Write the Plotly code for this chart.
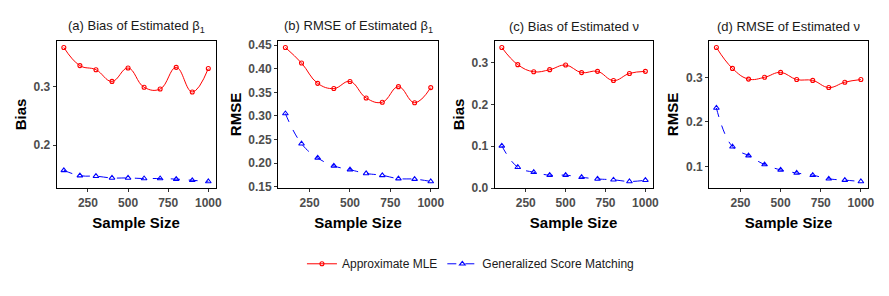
import plotly.graph_objects as go

sample_size = [100, 200, 300, 400, 500, 600, 700, 800, 900, 1000]

# (a) Bias of beta1
bias_beta_mle = [0.367, 0.336, 0.329, 0.309, 0.332, 0.299, 0.296, 0.333, 0.291, 0.331]
bias_beta_gsm = [0.157, 0.148, 0.147, 0.144, 0.144, 0.143, 0.143, 0.142, 0.140, 0.138]
# (b) RMSE of beta1
rmse_beta_mle = [0.445, 0.412, 0.369, 0.358, 0.373, 0.338, 0.329, 0.362, 0.328, 0.360]
rmse_beta_gsm = [0.305, 0.241, 0.211, 0.194, 0.186, 0.178, 0.174, 0.167, 0.166, 0.161]
# (c) Bias of nu
bias_nu_mle = [0.336, 0.295, 0.278, 0.283, 0.294, 0.276, 0.279, 0.257, 0.274, 0.279]
bias_nu_gsm = [0.101, 0.050, 0.038, 0.031, 0.031, 0.026, 0.022, 0.020, 0.016, 0.019]
# (d) RMSE of nu
rmse_nu_mle = [0.367, 0.320, 0.296, 0.300, 0.311, 0.295, 0.293, 0.277, 0.289, 0.295]
rmse_nu_gsm = [0.231, 0.144, 0.124, 0.104, 0.092, 0.085, 0.080, 0.072, 0.069, 0.066]

titles = ["(a) Bias of Estimated β<sub>1</sub>", "(b) RMSE of Estimated β<sub>1</sub>",
          "(c) Bias of Estimated ν", "(d) RMSE of Estimated ν"]
ytitles = ["Bias", "RMSE", "Bias", "RMSE"]
series = [(bias_beta_mle, bias_beta_gsm), (rmse_beta_mle, rmse_beta_gsm),
          (bias_nu_mle, bias_nu_gsm), (rmse_nu_mle, rmse_nu_gsm)]
ytickvals = [[0.2, 0.3], [0.15, 0.20, 0.25, 0.30, 0.35, 0.40, 0.45],
             [0.0, 0.1, 0.2, 0.3], [0.1, 0.2, 0.3]]
ytickfmt = [".1f", ".2f", ".1f", ".1f"]
xtickvals = [250, 500, 750, 1000]

W, H = 889, 296
xpx = [(57, 217), (280, 441), (498, 657), (714, 874)]
ypx = (40, 192)

fig = go.Figure()
layout = dict(
    width=W, height=H, margin=dict(l=0, r=0, t=0, b=0),
    paper_bgcolor="white", plot_bgcolor="white",
    font=dict(family="Liberation Sans, Arial, sans-serif", color="#1a1a1a"),
    showlegend=True,
    legend=dict(orientation="h", x=304 / W, xanchor="left", y=1 - 270 / H, yanchor="middle",
                font=dict(size=12, color="#1a1a1a"), bgcolor="rgba(0,0,0,0)"),
    annotations=[],
)

for i in range(4):
    xa = "x" if i == 0 else f"x{i+1}"
    ya = "y" if i == 0 else f"y{i+1}"
    mle, gsm = series[i]
    fig.add_trace(go.Scatter(x=sample_size, y=mle, mode="lines+markers", xaxis=xa, yaxis=ya,
                             name="Approximate MLE", showlegend=(i == 0), legendgroup="mle",
                             line=dict(color="red", width=1, shape="spline", smoothing=1.2),
                             marker=dict(symbol="circle-open", size=4, color="red", line=dict(width=1.1))))
    fig.add_trace(go.Scatter(x=sample_size, y=gsm, mode="lines+markers", xaxis=xa, yaxis=ya,
                             name="Generalized Score Matching", showlegend=(i == 0), legendgroup="gsm",
                             line=dict(color="blue", width=1, dash="dash", shape="spline", smoothing=1.2),
                             marker=dict(symbol="triangle-up-open", size=5, color="blue", line=dict(width=1.1))))
    allv = mle + gsm
    lo, hi = min(allv), max(allv)
    pad = (hi - lo) * 0.05
    x0, x1 = xpx[i]
    axcommon = dict(showline=True, linecolor="black", linewidth=1, mirror=True, showgrid=False,
                    zeroline=False, ticks="outside", ticklen=3, tickcolor="#333333",
                    tickfont=dict(family="Liberation Sans, Arial, sans-serif", size=12, color="#4d4d4d", weight="bold"))
    layout["xaxis" + ("" if i == 0 else str(i + 1))] = dict(
        axcommon, domain=[x0 / W, x1 / W], anchor=ya, range=[55, 1045],
        tickvals=xtickvals,
        title=dict(text="<b>Sample Size</b>", font=dict(size=15, color="black"), standoff=8))
    layout["yaxis" + ("" if i == 0 else str(i + 1))] = dict(
        axcommon, domain=[1 - ypx[1] / H, 1 - ypx[0] / H], anchor=xa, range=[lo - pad, hi + pad],
        tickvals=ytickvals[i], tickformat=ytickfmt[i],
        title=dict(text=f"<b>{ytitles[i]}</b>", font=dict(size=15, color="black"), standoff=3))
    layout["annotations"].append(dict(
        text=titles[i], x=(x0 + x1) / 2 / W, y=1 - 25 / H, xref="paper", yref="paper",
        xanchor="center", yanchor="middle", showarrow=False,
        font=dict(size=13, color="#1a1a1a")))

fig.update_layout(**layout)
fig.write_html("out.html", config={"displayModeBar": False},
               post_script="document.body.style.margin='0';")
